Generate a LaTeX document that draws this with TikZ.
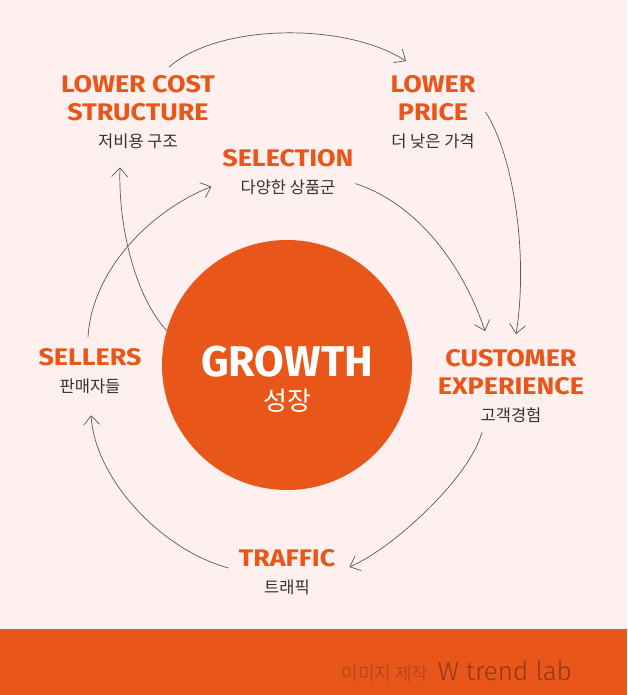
\documentclass[tikz,border=0pt]{standalone}
\usepackage{fontspec}
\setmainfont{Fira Sans}
\newfontfamily\headfont{Fira Sans Bold}[FakeStretch=1.12]
\newfontfamily\kofont{Noto Sans CJK KR}
\newfontfamily\lightfont{Fira Sans Light}
\usetikzlibrary{arrows.meta,positioning}
\definecolor{flame}{HTML}{E8561A}
\definecolor{blush}{HTML}{FDF0EE}
\definecolor{ink}{HTML}{333333}
\definecolor{wire}{HTML}{5A5A5A}
\definecolor{rust}{HTML}{8E3719}
\definecolor{rustlight}{HTML}{B8461C}

\begin{document}
\begin{tikzpicture}[x=1pt,y=-1pt,
  head/.style={font=\headfont\fontsize{24}{28}\selectfont,text=flame,align=center,inner sep=0pt},
  sub/.style={font=\kofont\fontsize{16.5}{19}\selectfont,text=ink,inner sep=0pt,below=13pt of #1},
  arr/.style={-{Straight Barb[length=9pt,width=16pt]},line width=0.7pt,color=wire}]
  \useasboundingbox (0,0) rectangle (627,695);
  \fill[blush] (0,0) rectangle (627,695);
  \fill[flame] (0,629) rectangle (627,695);
  % hub
  \node[circle,fill=flame,minimum size=250pt,inner sep=0pt] (grow) at (287,365) {};
  \node[font=\bfseries\fontsize{43}{44}\selectfont,text=white,inner sep=0pt] (growh) at (287,362) {GROWTH};
  \node[font=\kofont\fontsize{26}{28}\selectfont,text=white,inner sep=0pt,below=11pt of growh] (growsub) {성장};
  % steps of the loop
  \node[head] (lcsh) at (138,98) {LOWER COST\\STRUCTURE};
  \node[sub=lcsh] (lcssub) {저비용 구조};
  \node[head] (lph) at (433,98) {LOWER\\PRICE};
  \node[sub=lph] (lpsub) {더 낮은 가격};
  \node[head] (selh) at (288,158) {SELECTION};
  \node[sub=selh] (selsub) {다양한 상품군};
  \node[head] (sellh) at (90,357) {SELLERS};
  \node[sub=sellh] (sellsub) {판매자들};
  \node[head] (cxh) at (511,372) {CUSTOMER\\EXPERIENCE};
  \node[sub=cxh] (cxsub) {고객경험};
  \node[head] (trh) at (287,558) {TRAFFIC};
  \node[sub=trh] (trsub) {트래픽};
  % credit line
  \node[font=\lightfont\fontsize{26}{28}\selectfont,text=rust,anchor=base east,inner sep=0pt] (credit) at (572,680) {W trend lab};
  \node[font=\kofont\fontsize{18}{20}\selectfont,text=rustlight,anchor=base east,inner sep=0pt] (maker) at ([xshift=-9pt]credit.base west) {이미지 제작};
  % flywheel arrows
  \draw[arr] ([xshift=31pt,yshift=8pt]lcsh.north) .. controls +(50,-44) and +(-60,-39) .. ([xshift=-27pt,yshift=14pt]lph.north);
  \draw[arr] ([xshift=10pt,yshift=-14pt]lph.east) .. controls +(30,47) and +(12,-73) .. ([xshift=5pt,yshift=15pt]cxh.north);
  \draw[arr] ([xshift=20pt,yshift=4pt]selsub.east) .. controls +(66,22) and +(-20,-60) .. ([xshift=-26pt,yshift=18pt]cxh.north);
  \draw[arr] ([xshift=-29pt,yshift=-9pt]cxsub.south) .. controls +(-13,46) and +(44,-19) .. ([xshift=14pt,yshift=-9pt]trh.east);
  \draw[arr] ([xshift=-10pt,yshift=-10pt]trh.west) .. controls +(-67,-18) and +(4,64) .. ([xshift=1pt,yshift=-21pt]sellsub.south);
  \draw[arr] ([xshift=-2pt,yshift=11pt]sellh.north) .. controls +(4,-67) and +(-61,24) .. ([xshift=-29pt,yshift=1pt]selsub.west);
  \draw[arr] (grow.164) .. controls +(-30,-32) and +(-2,62) .. ([xshift=-18pt,yshift=-18pt]lcssub.south);
\end{tikzpicture}
\end{document}
